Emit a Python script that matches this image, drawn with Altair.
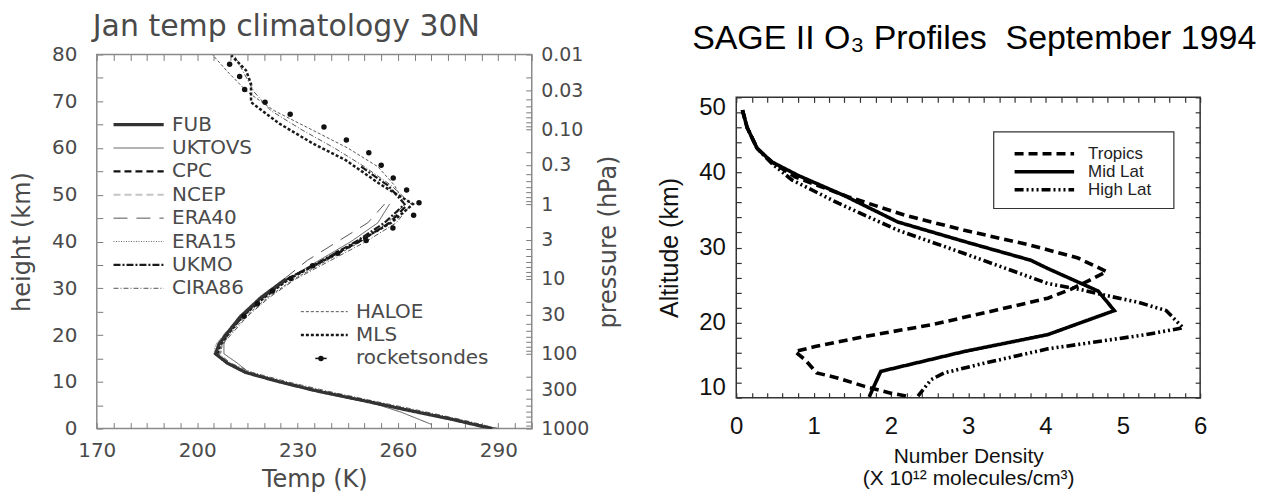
import altair as alt
import pandas as pd

# ---------------------------------------------------------------
# Left panel: Jan temp climatology 30N (height km vs Temp K)
# ---------------------------------------------------------------
z_10hpa = [0, 2, 4, 6, 8, 10, 12, 14, 16, 18, 20, 24, 28, 32]
z_1hpa = [0, 2, 4, 6, 8, 10, 12, 14, 16, 18, 20, 24, 28, 32, 36, 40, 44, 48]
z_03hpa = [0, 2, 4, 6, 8, 10, 12, 14, 16, 18, 20, 24, 28, 32, 36, 40, 44, 48, 52, 56]
z_cira = [0, 2, 4, 6, 8, 10, 12, 14, 16, 18, 20, 24, 28, 32, 36, 40, 44, 48, 52, 56,
          60, 64, 68, 72, 76, 80]
z_haloe = [16, 18, 20, 24, 28, 32, 36, 40, 44, 48, 52, 56, 60, 64, 68, 72, 76, 80]
z_mls = [16, 18, 20, 24, 28, 32, 36, 40, 44, 48, 52.4, 57.4, 61, 65.2, 69.8, 73.7, 76.6, 79.8]
z_uktovs = [0.9, 3.5, 6, 8, 10, 12, 14, 16, 18, 20, 24, 28, 32, 36, 40, 44, 48]

T_fub = [288, 276, 262.5, 249.5, 236, 224.5, 214.5, 209, 205.5, 206.5, 208.5, 213, 219, 226.5]
T_ncep = [288.5, 276.5, 263, 250, 236.5, 225, 215, 209.5, 206, 206, 208, 213.5, 220, 227]
T_era15 = [288, 275.5, 262, 249, 235.5, 224, 214, 208.5, 205, 205.5, 208, 212.5, 219.5, 227.5]
T_cpc = [288.5, 276.5, 263, 250, 236.5, 225, 214.5, 209, 205.5, 206.5, 208.5, 213, 219.5, 227,
         238, 248.5, 257.5, 263]
T_era40 = [288, 276, 262.5, 249, 236, 224.5, 214.5, 209, 205.5, 207, 209, 214, 219.5, 226,
           233, 242, 251, 256]
T_ukmo = [288, 276, 262.5, 249.5, 236, 224.5, 214.5, 209, 205.5, 206.5, 208.5, 213.5, 219.5, 227,
          237.5, 247.5, 256, 262, 257, 249]
T_cira86 = [290, 278.5, 265.5, 252, 239, 227, 216.5, 210, 206.5, 207.5, 210, 215, 221.5, 229.5,
            240, 250.5, 259.5, 264, 258, 250, 241, 231, 222, 217, 214, 211]
T_uktovs = [270, 261, 250, 236, 224.5, 215.5, 212, 208, 208, 209, 213.5, 219.5, 227, 236.5,
            246, 254, 257.5]
T_haloe = [207, 207.5, 209.5, 214.5, 221, 229, 239, 249, 257, 262, 259, 254, 245, 234, 223,
           215, 209.5, 204.5]
T_mls = [206, 207, 209, 213.5, 220, 227.5, 238, 248, 258, 264.5, 254.4, 244.4, 234.5, 224.6,
         216.1, 216.1, 214.6, 210.2]

rocket_z = [77.9, 75.3, 72.5, 69.8, 67.2, 64.5, 61.7, 59.0, 56.3, 53.6, 51.0, 48.3, 45.6,
            42.9, 40.2, 37.5, 34.8, 32.1, 29.4, 26.7, 24.0]
rocket_T = [209.7, 212.7, 214.2, 220.3, 227.8, 237.9, 244.6, 251.3, 255.0, 258.6, 262.6, 266.3,
            264.7, 258.5, 250.5, 242, 234.5, 228, 222.5, 218, 214]

legend1_names = ["FUB", "UKTOVS", "CPC", "NCEP", "ERA40", "ERA15", "UKMO", "CIRA86"]
legend1_z = [65, 60, 55, 50, 45, 40, 35, 30]
legend2_names = ["HALOE", "MLS"]
legend2_z = [25, 20]

# pressure axis (right side of left panel)
p_major = [0.01, 0.03, 0.1, 0.3, 1, 3, 10, 30, 100, 300, 1000]
p_labels = ["0.01", "0.03", "0.10", "0.3", "1", "3", "10", "30", "100", "300", "1000"]
p_ticks = sorted({round(m * 10.0 ** e, 6) for e in range(-2, 3) for m in range(1, 10)} | {1000.0})

# ---------------------------------------------------------------
# Right panel: SAGE II O3 profiles
# ---------------------------------------------------------------
trop_v = [0.08, 0.14, 0.27, 0.46, 0.76, 1.45, 2.18, 2.95, 3.81, 4.42, 4.79, 4.58, 4.32, 4.03,
          3.38, 2.52, 1.66, 1.02, 0.76, 0.89, 1.04, 1.32, 1.66, 2.0, 2.26]
trop_z = [48.3, 46.0, 43.2, 41.4, 39.4, 36.75, 34.3, 32.3, 30.3, 28.6, 26.8, 25.7, 24.4, 23.25,
          21.7, 19.7, 18.15, 16.8, 16.15, 15.05, 13.3, 12.6, 11.5, 10.6, 10.1]
mid_v = [0.08, 0.14, 0.27, 0.46, 0.8, 1.4, 2.09, 2.95, 3.81, 4.03, 4.68, 4.89, 4.03, 2.95,
         1.87, 1.78, 1.72]
mid_z = [48.3, 46.0, 43.2, 41.4, 39.6, 36.9, 33.4, 30.8, 28.3, 27.2, 24.2, 21.6, 18.4, 16.15,
         13.5, 11.5, 10.1]
high_v = [0.08, 0.14, 0.27, 0.46, 0.72, 1.32, 2.09, 2.95, 4.03, 4.45, 4.79, 5.2, 5.56, 5.78,
          5.3, 4.03, 3.17, 2.69, 2.52, 2.35]
high_z = [48.3, 46.0, 43.2, 41.2, 39.0, 35.9, 32.3, 29.2, 25.2, 24.4, 23.6, 22.7, 21.6, 19.3,
          18.4, 16.5, 14.5, 13.3, 12.4, 10.2]
o3_names = ["Tropics", "Mid Lat", "High Lat"]
o3_legend_z = [42.5, 40.1, 37.7]

# ---------------------------------------------------------------
# Styles
# ---------------------------------------------------------------
LFONT = "DejaVu Sans"
LGRAY = "#4a4a4a"
RFONT = "Liberation Sans"
TK = 6
RTK = 5
R_W, R_H, R_TOP = 465, 344, 43

style_L = {  # name: (color, dash, width)
    "FUB": ("#333333", [1, 0], 3.2),
    "UKTOVS": ("#555555", [1, 0], 1.0),
    "CPC": ("#111111", [7, 4], 2.2),
    "NCEP": ("#c4c4c4", [7, 4], 2.2),
    "ERA40": ("#555555", [14, 9], 1.0),
    "ERA15": ("#666666", [1, 1.5], 1.0),
    "UKMO": ("#1a1a1a", [7, 2, 2, 2], 2.2),
    "CIRA86": ("#555555", [5, 2, 1, 2], 1.0),
    "HALOE": ("#555555", [3, 2], 1.0),
    "MLS": ("#1a1a1a", [3, 2], 2.5),
}
style_R = {
    "Tropics": [9, 5],
    "Mid Lat": [1, 0],
    "High Lat": [9, 3, 2, 3, 2, 3, 2, 3],
}

# ---------------------------------------------------------------
# Left panel
# ---------------------------------------------------------------
left_series = [
    ("NCEP", z_10hpa, T_ncep), ("ERA15", z_10hpa, T_era15), ("ERA40", z_1hpa, T_era40),
    ("UKTOVS", z_uktovs, T_uktovs), ("CIRA86", z_cira, T_cira86), ("HALOE", z_haloe, T_haloe),
    ("CPC", z_1hpa, T_cpc), ("UKMO", z_03hpa, T_ukmo), ("MLS", z_mls, T_mls),
    ("FUB", z_10hpa, T_fub),
]

xs_L = alt.Scale(domain=[170, 300], nice=False, zero=False)
ys_L = alt.Scale(domain=[0, 80], nice=False, zero=False)
t_ticks = list(range(170, 305, 5))
t_labels = [170, 200, 230, 260, 290]
z_ticks = list(range(0, 85, 5))


def lax(orient, **kw):
    base = dict(orient=orient, tickSize=TK, offset=-TK, domain=False, grid=False,
                tickColor="#7a7a7a", tickWidth=1, labelFont=LFONT, labelFontSize=20,
                labelColor=LGRAY, labelOverlap=False, labelFlush=False, titleFont=LFONT,
                titleFontSize=24, titleColor=LGRAY, titleFontWeight="normal")
    base.update(kw)
    return alt.Axis(**base)


ax_bottom = lax("bottom", values=t_ticks,
                labelExpr=f"indexof({t_labels}, datum.value) >= 0 ? datum.label : ''",
                labelPadding=12, title="Temp (K)", titlePadding=7)
ax_left = lax("left", values=z_ticks, labelExpr="datum.value % 10 == 0 ? datum.label : ''",
              labelPadding=20, title="height (km)", titlePadding=17)
ax_top = lax("top", values=t_ticks, labels=False, title="")
ax_pres = lax("right", values=p_ticks,
              labelExpr=(f"indexof({p_major}, datum.value) >= 0 ? "
                         f"{p_labels}[indexof({p_major}, datum.value)] : ''"),
              labelPadding=9, labelFontSize=19, title="pressure (hPa)", titleAngle=270,
              titleBaseline="top", titlePadding=8)


def XL(f):
    return alt.X(f, type="quantitative", scale=xs_L, axis=ax_bottom)


def YL(f):
    return alt.Y(f, type="quantitative", scale=ys_L, axis=ax_left)


df_frame_L = pd.DataFrame({"t0": [170], "t1": [300], "z0": [0], "z1": [80]})
layers_L = [alt.Chart(df_frame_L).mark_rect(filled=False, stroke="#8a8a8a", strokeWidth=1.5).encode(
    x=XL("t0"), x2="t1:Q", y=YL("z0"), y2="z1:Q")]

for name, zs, ts in left_series:
    c, d, w = style_L[name]
    df = pd.DataFrame({"z": zs, "T": ts, "i": list(range(len(zs)))})
    layers_L.append(alt.Chart(df).mark_line(color=c, strokeDash=d, strokeWidth=w, clip=True).encode(
        x=XL("T"), y=YL("z"), order="i:Q"))

layers_L.append(alt.Chart(pd.DataFrame({"z": rocket_z, "T": rocket_T})).mark_circle(
    size=30, color="#111111", opacity=1).encode(x=XL("T"), y=YL("z")))

LEG1_T0, LEG1_T1, LEG1_TT = 175, 190, 192.5
LEG2_T0, LEG2_T1, LEG2_TT = 231, 245, 247.5
leg_rows = ([(n, z, LEG1_T0, LEG1_T1, LEG1_TT) for n, z in zip(legend1_names, legend1_z)] +
            [(n, z, LEG2_T0, LEG2_T1, LEG2_TT) for n, z in zip(legend2_names, legend2_z)])
for name, z, t0, t1, tt in leg_rows:
    c, d, w = style_L[name]
    df = pd.DataFrame({"series": [name], "z": [z], "t0": [t0], "t1": [t1], "tt": [tt]})
    layers_L.append(alt.Chart(df).mark_rule(color=c, strokeDash=d, strokeWidth=w).encode(
        x=XL("t0"), x2="t1:Q", y=YL("z")))
    layers_L.append(alt.Chart(df).mark_text(align="left", baseline="middle", font=LFONT,
                                            fontSize=20, color=LGRAY).encode(
        x=XL("tt"), y=YL("z"), text="series:N"))

df_leg_rock = pd.DataFrame({"series": ["rocketsondes"], "z": [15], "t0": [235.3], "t1": [238.7],
                            "tm": [237], "tt": [LEG2_TT]})
layers_L.append(alt.Chart(df_leg_rock).mark_rule(color="#111111", strokeWidth=1.5).encode(
    x=XL("t0"), x2="t1:Q", y=YL("z")))
layers_L.append(alt.Chart(df_leg_rock).mark_circle(size=30, color="#111111", opacity=1).encode(
    x=XL("tm"), y=YL("z")))
layers_L.append(alt.Chart(df_leg_rock).mark_text(align="left", baseline="middle", font=LFONT,
                                                 fontSize=20, color=LGRAY).encode(
    x=XL("tt"), y=YL("z"), text="series:N"))

left_core = alt.layer(*layers_L)
top_L = alt.Chart(df_frame_L).mark_point(opacity=0).encode(
    x=alt.X("t0:Q", scale=xs_L, axis=ax_top))
left_xy = alt.layer(left_core, top_L).resolve_axis(x="independent")
pres_L = alt.Chart(pd.DataFrame({"p": p_ticks})).mark_point(opacity=0).encode(
    y=alt.Y("p:Q", scale=alt.Scale(type="log", domain=[0.01, 1000], reverse=True, nice=False),
            axis=ax_pres))
left = alt.layer(left_xy, pres_L).resolve_scale(y="independent").properties(
    width=436, height=375,
    title=alt.TitleParams("Jan temp climatology 30N", font=LFONT, fontSize=30,
                          fontWeight="normal", color=LGRAY, anchor="start", frame="group",
                          dx=-4, offset=3))

# ---------------------------------------------------------------
# Right panel
# ---------------------------------------------------------------
xs_R = alt.Scale(domain=[0, 6], nice=False, zero=False)
ys_R = alt.Scale(domain=[10, 50], range=[R_H, R_TOP], nice=False, zero=False)
v_ticks = [round(0.2 * i, 1) for i in range(31)]
zr_ticks = list(range(10, 52, 2))


def rax(orient, **kw):
    base = dict(orient=orient, tickSize=RTK, offset=-RTK, domain=False, grid=False,
                tickColor="#333333", tickWidth=1.2, labelFont=RFONT, labelFontSize=24,
                labelColor="#111111", labelOverlap=False, labelFlush=False, titleFont=RFONT,
                titleFontSize=25, titleColor="#111111", titleFontWeight="normal")
    base.update(kw)
    return alt.Axis(**base)


axr_bottom = rax("bottom", values=v_ticks,
                 labelExpr="datum.value % 1 == 0 ? format(datum.value, 'd') : ''",
                 labelPadding=17, title=["Number Density", "(X 10\u00b9\u00b2 molecules/cm\u00b3)"],
                 titleFontSize=21, titleLineHeight=22, titlePadding=7)
axr_left = rax("left", values=zr_ticks, labelExpr="datum.value % 10 == 0 ? datum.label : ''",
               labelPadding=11, labelFlush=True, labelFlushOffset=2, title="Altitude (km)",
               titlePadding=16)
axr_top = rax("top", values=v_ticks, labels=False, title="", offset=-(R_TOP + RTK))
axr_right = rax("right", values=zr_ticks, labels=False, title="")


def XR(f):
    return alt.X(f, type="quantitative", scale=xs_R, axis=axr_bottom)


def YR(f):
    return alt.Y(f, type="quantitative", scale=ys_R, axis=axr_left)


df_frame_R = pd.DataFrame({"v0": [0], "v1": [6], "z0": [10], "z1": [50]})
layers_R = [alt.Chart(df_frame_R).mark_rect(filled=False, stroke="#333333", strokeWidth=1.5).encode(
    x=XR("v0"), x2="v1:Q", y=YR("z0"), y2="z1:Q")]
for name, vs, zs in [("Tropics", trop_v, trop_z), ("Mid Lat", mid_v, mid_z),
                     ("High Lat", high_v, high_z)]:
    df = pd.DataFrame({"v": vs, "z": zs, "i": list(range(len(vs)))})
    layers_R.append(alt.Chart(df).mark_line(color="#000000", strokeWidth=3.6,
                                            strokeDash=style_R[name], clip=True).encode(
        x=XR("v"), y=YR("z"), order="i:Q"))

df_box_R = pd.DataFrame({"v0": [3.33], "v1": [5.66], "z0": [35.2], "z1": [45.4]})
layers_R.append(alt.Chart(df_box_R).mark_rect(fill="#ffffff", stroke="#333333", strokeWidth=1.2).encode(
    x=XR("v0"), x2="v1:Q", y=YR("z0"), y2="z1:Q"))
LEGR_V0, LEGR_V1, LEGR_VT = 3.6, 4.37, 4.55
for name, z in zip(o3_names, o3_legend_z):
    df = pd.DataFrame({"series": [name], "z": [z], "v0": [LEGR_V0], "v1": [LEGR_V1], "vt": [LEGR_VT]})
    layers_R.append(alt.Chart(df).mark_rule(color="#000000", strokeWidth=3.6,
                                            strokeDash=style_R[name]).encode(
        x=XR("v0"), x2="v1:Q", y=YR("z")))
    layers_R.append(alt.Chart(df).mark_text(align="left", baseline="middle", font=RFONT,
                                            fontSize=17, color="#222222").encode(
        x=XR("vt"), y=YR("z"), text="series:N"))

right_core = alt.layer(*layers_R)
top_R = alt.Chart(df_frame_R).mark_point(opacity=0).encode(
    x=alt.X("v0:Q", scale=xs_R, axis=axr_top))
side_R = alt.Chart(df_frame_R).mark_point(opacity=0).encode(
    y=alt.Y("z0:Q", scale=ys_R, axis=axr_right))
right = alt.layer(right_core, top_R, side_R).resolve_axis(x="independent", y="independent").properties(
    width=R_W, height=R_H,
    title=alt.TitleParams("SAGE II O\u2083 Profiles\u00a0 September 1994", font=RFONT, fontSize=34,
                          fontWeight="normal", color="#000000", anchor="middle", dx=6, offset=2,
                          dy=4))

chart = alt.hconcat(left, right, spacing=205, bounds="flush").properties(
    padding={"left": 2, "top": 3, "right": 5, "bottom": 5}
).configure_view(strokeWidth=0)

chart.save("out.html", embed_options={"renderer": "svg", "actions": False})
